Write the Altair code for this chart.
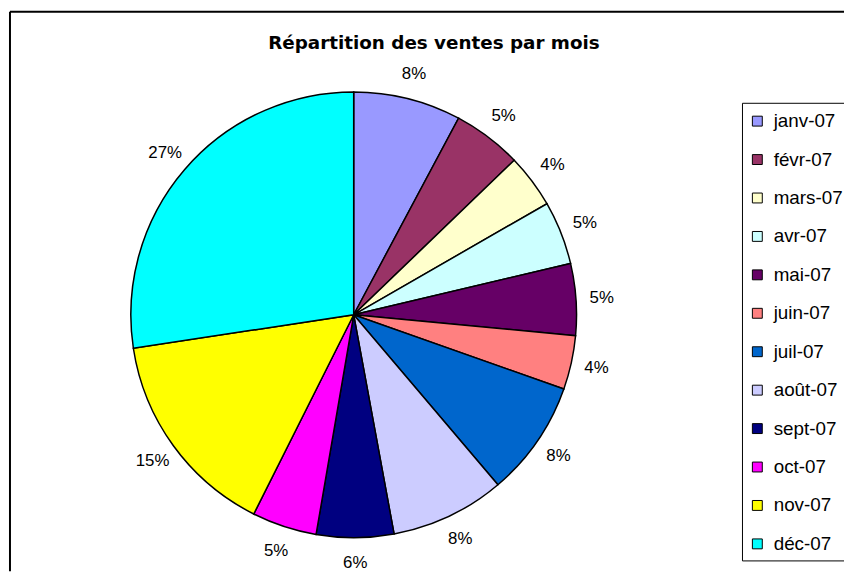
import altair as alt
import pandas as pd

months = ["janv-07", "févr-07", "mars-07", "avr-07", "mai-07", "juin-07",
          "juil-07", "août-07", "sept-07", "oct-07", "nov-07", "déc-07"]
shares = [7.8, 5.0, 3.9, 4.6, 5.2, 3.9, 8.4, 8.3, 5.6, 4.7, 15.2, 27.4]
colors = ["#9999FF", "#993366", "#FFFFCC", "#CCFFFF", "#660066", "#FF8080",
          "#0066CC", "#CCCCFF", "#000080", "#FF00FF", "#FFFF00", "#00FFFF"]
title_text = "Répartition des ventes par mois"

df = pd.DataFrame({"mois": months, "part": shares, "idx": list(range(len(months)))})

FONT = "Liberation Sans"
W, H = 842, 565
CX, CY = 347, 306

base = alt.Chart(df).encode(
    theta=alt.Theta("part:Q", stack=True),
    order=alt.Order("idx:Q"),
)

pie = base.mark_arc(outerRadius=225, stroke="black", strokeWidth=1.5).encode(
    x=alt.value(CX), y=alt.value(CY),
    color=alt.Color(
        "mois:N",
        sort=months,
        scale=alt.Scale(domain=months, range=colors),
        legend=alt.Legend(
            title=" ", titleFontSize=2, titlePadding=1,
            orient="none", legendX=739, legendY=92,
            strokeColor="black", padding=6, symbolType="square",
            symbolSize=100, symbolStrokeColor="black", symbolStrokeWidth=1,
            symbolOpacity=1, labelFont=FONT, labelFontSize=19,
            labelColor="black", rowPadding=18.8, labelOffset=7,
            labelLimit=200,
        ),
    ),
)

labels = base.transform_joinaggregate(total="sum(part)").transform_calculate(
    lab="round(datum.part / datum.total * 100) + '%'"
).mark_text(radius=251, font=FONT, fontSize=17, color="black",
            baseline="middle", align="center").encode(
    x=alt.value(CX), y=alt.value(CY), text="lab:N"
)

title = alt.Chart(pd.DataFrame({"t": [title_text]})).mark_text(
    font="DejaVu Sans", fontSize=18.5, fontWeight="bold", color="black",
    baseline="middle", align="center"
).encode(x=alt.value(428), y=alt.value(32), text="t:N")

frame_left = alt.Chart(pd.DataFrame({"k": [0]})).mark_rule(
    color="black", strokeWidth=2
).encode(x=alt.value(0), y=alt.value(0), y2=alt.value(H))
frame_top = alt.Chart(pd.DataFrame({"k": [0]})).mark_rule(
    color="black", strokeWidth=2
).encode(x=alt.value(0), x2=alt.value(W), y=alt.value(0))

chart = alt.layer(frame_left, frame_top, pie, labels, title).properties(
    width=W, height=H,
    autosize=alt.AutoSizeParams(type="none"),
    padding={"left": 2, "top": 1, "right": 0, "bottom": 0},
    background="white",
).configure_view(stroke=None)

chart.save("out.html", embed_options={"renderer": "svg", "actions": False})
